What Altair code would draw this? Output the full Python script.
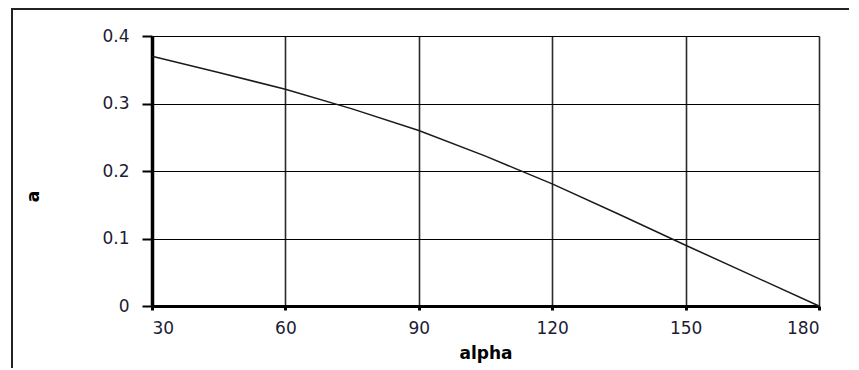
import altair as alt
import pandas as pd

alpha = [30, 45, 60, 75, 90, 105, 120, 135, 150, 165, 180]
a_vals = [0.37, 0.346, 0.321, 0.292, 0.26, 0.222, 0.181, 0.136, 0.09, 0.045, 0.0]
x_ticks = [30, 60, 90, 120, 150, 180]
y_ticks = [0, 0.1, 0.2, 0.3, 0.4]

df = pd.DataFrame({"alpha": alpha, "a": a_vals})

FONT = "DejaVu Sans"
LABEL_COLOR = "#1c1c34"

frame = alt.Chart(pd.DataFrame({"k": [0]})).mark_rect(
    fill=None, stroke="#222222", strokeWidth=2, clip=False
).encode(
    x=alt.value(-140), x2=alt.value(720),
    y=alt.value(-27), y2=alt.value(345),
)

line = alt.Chart(df).mark_line(color="#1a1a1a", strokeWidth=1.5).encode(
    x=alt.X("alpha:Q",
            scale=alt.Scale(domain=[30, 180], nice=False, zero=False),
            axis=alt.Axis(values=x_ticks, title="alpha", grid=True,
                          gridColor="#2a2a2a", gridWidth=1.6,
                          domainColor="#000000", domainWidth=3,
                          tickColor="#000000", tickSize=4, tickWidth=3,
                          labelFont=FONT, labelFontSize=17, labelColor=LABEL_COLOR,
                          labelPadding=10,
                          titleFont=FONT, titleFontSize=17, titleFontWeight="bold",
                          titleColor="#000000", titlePadding=9)),
    y=alt.Y("a:Q",
            scale=alt.Scale(domain=[0, 0.4], nice=False),
            axis=alt.Axis(values=y_ticks, title="a", format=".1~f", grid=True,
                          gridColor="#000000", gridWidth=1,
                          domainColor="#000000", domainWidth=3.5,
                          tickColor="#000000", tickSize=10, tickWidth=2,
                          labelFont=FONT, labelFontSize=17, labelColor=LABEL_COLOR,
                          labelPadding=13,
                          titleFont=FONT, titleFontSize=17, titleFontWeight="bold",
                          titleColor="#000000",
                          titleX=-110, titleY=160)),
)

chart = alt.layer(frame, line).properties(
    width=667, height=270,
    padding={"left": 144, "top": 28, "right": 30, "bottom": 62},
    autosize=alt.AutoSizeParams(type="none"),
    background="white",
).configure_view(stroke=None)

chart.save("out.html", embed_options={"renderer": "svg", "actions": False})
